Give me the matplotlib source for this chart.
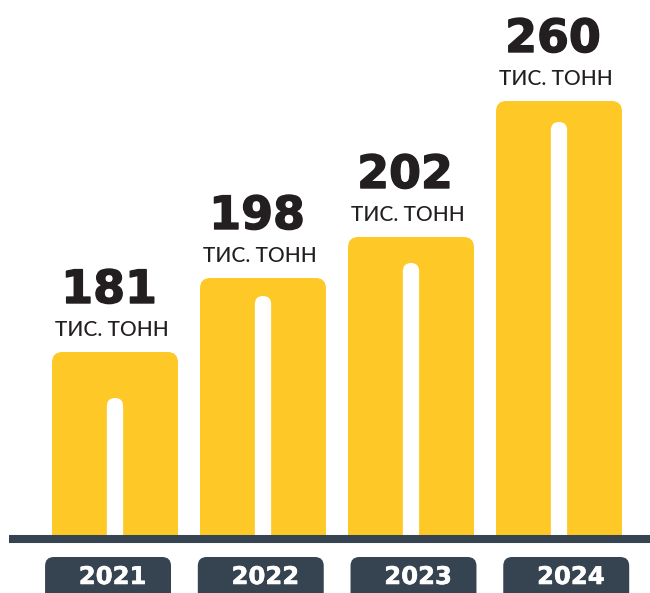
import matplotlib.pyplot as plt
import matplotlib.patheffects as pe
from matplotlib.patches import FancyBboxPatch, Rectangle

# data
years = ['2021', '2022', '2023', '2024']
values = [181, 198, 202, 260]
unit = 'ТИС. ТОНН'
# drawn heights of the bars and of the white stripes (illustrative, px)
bar_heights = [183, 257, 298, 434]
stripe_heights = [137, 239, 272, 413]

yellow = '#FEC826'
slate = '#364452'
ink = '#231F20'

fig = plt.figure(figsize=(6.5, 5.93), dpi=100)
ax = fig.add_axes([0, 0, 1, 1])
ax.set_xlim(-0.777, 3.615)
ax.set_ylim(-58, 535)
ax.axis('off')

asp = 148  # y units per x unit (1 x unit = 148 px)
bw = 0.851
sw = 0.11

for i, (h, sh, v) in enumerate(zip(bar_heights, stripe_heights, values)):
    clip = Rectangle((i - 0.5, 0), 1, 600, transform=ax.transData)
    bar = FancyBboxPatch((i - bw / 2, -30), bw, h + 30,
                         boxstyle='round,pad=0,rounding_size=0.07',
                         mutation_aspect=asp, fc=yellow, ec='none')
    ax.add_patch(bar)
    bar.set_clip_path(clip)
    stripe = FancyBboxPatch((i - sw / 2, -30), sw, sh + 30,
                            boxstyle='round,pad=0,rounding_size=%f' % (sw / 2),
                            mutation_aspect=asp, fc='white', ec='none')
    ax.add_patch(stripe)
    stripe.set_clip_path(clip)

    ax.text(i - 0.04, h + 49, str(v), ha='center', va='baseline',
            fontsize=33, fontweight='bold', family='DejaVu Sans', color=ink,
            path_effects=[pe.withStroke(linewidth=1.0, foreground=ink)])
    ax.text(i - 0.02, h + 16, unit, ha='center', va='baseline',
            fontsize=15, fontweight='medium', family='Lato', color=ink)

# baseline
ax.plot([-0.716, 3.615], [-4, -4], color=slate, lw=5.8, solid_capstyle='butt')

# year boxes
for i, yr in enumerate(years):
    cx = i * 1.032 - 0.047
    box = FancyBboxPatch((cx - bw / 2, -90), bw, 68,
                         boxstyle='round,pad=0,rounding_size=0.06',
                         mutation_aspect=asp, fc=slate, ec='none')
    ax.add_patch(box)
    ax.text(cx + 0.03, -42, yr, ha='center', va='center',
            fontsize=17.5, fontweight='bold', family='DejaVu Sans', color='white',
            path_effects=[pe.withStroke(linewidth=0.4, foreground='white')])

fig.savefig('out.png', dpi=100)
